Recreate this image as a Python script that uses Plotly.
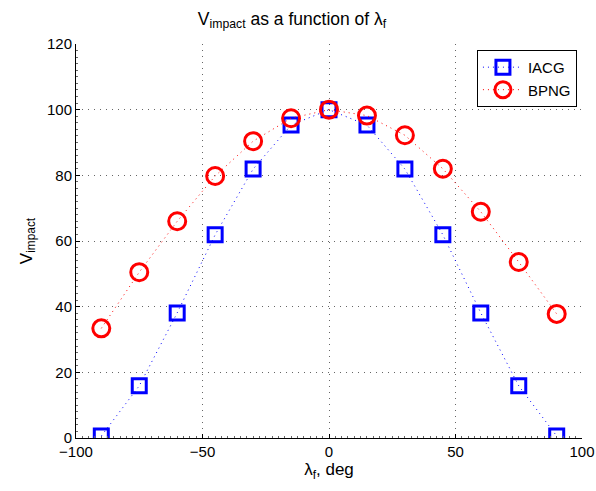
import plotly.graph_objects as go

# Final guidance angle (deg)
lam_f = [-90, -75, -60, -45, -30, -15, 0, 15, 30, 45, 60, 75, 90]
# Impact velocity for each guidance law
v_iacg = [0.6, 15.9, 38.1, 61.9, 81.9, 95.3, 100.0, 95.3, 81.9, 61.9, 38.1, 15.9, 0.6]
v_bpng = [33.4, 50.5, 66.0, 79.8, 90.4, 97.4, 100.0, 98.2, 92.2, 82.0, 68.9, 53.6, 37.8]

x_ticks = [-100, -50, 0, 50, 100]
y_ticks = [0, 20, 40, 60, 80, 100, 120]

FONT = "Liberation Sans, Arial, sans-serif"

fig = go.Figure()
fig.add_trace(go.Scatter(
    x=lam_f, y=v_iacg, name="IACG", mode="lines+markers",
    line=dict(color="#0000ff", width=1, dash="1px,4px"),
    marker=dict(symbol="square-open", size=14, color="#0000ff",
                line=dict(width=3, color="#0000ff")),
))
fig.add_trace(go.Scatter(
    x=lam_f, y=v_bpng, name="BPNG", mode="lines+markers",
    line=dict(color="#ff0000", width=1, dash="1px,4px"),
    marker=dict(symbol="circle-open", size=17, color="#ff0000",
                line=dict(width=3, color="#ff0000")),
))

axis_common = dict(
    showgrid=True, gridcolor="#666666", griddash="1px,5px", gridwidth=1,
    zeroline=False, showline=True, linecolor="black", linewidth=1,
    ticks="inside", ticklen=4, tickcolor="black", mirror=False,
    automargin=False,
    tickfont=dict(family=FONT, size=15, color="black"),
)

fig.update_xaxes(
    range=[-100, 100], tickvals=x_ticks, ticktext=["\u2212100", "\u221250", "0", "50", "100"],
    title=dict(text="\u03bb<sub>f</sub>, deg", font=dict(family=FONT, size=17, color="black"),
               standoff=2),
    minor=dict(dtick=2.5, ticks="inside", ticklen=2, tickcolor="#666666", showgrid=False),
    **axis_common,
)
fig.update_yaxes(
    range=[0, 120], tickvals=y_ticks,
    title=dict(text="V<sub>impact</sub>", font=dict(family=FONT, size=17, color="black"),
               standoff=10),
    minor=dict(dtick=2, ticks="inside", ticklen=2, tickcolor="#666666", showgrid=False),
    **axis_common,
)

fig.update_layout(
    width=596, height=491,
    margin=dict(l=76, r=14, t=44, b=53),
    paper_bgcolor="white", plot_bgcolor="white",
    title=dict(text="V<sub>impact</sub> as a function of \u03bb<sub>f</sub>",
               x=0.49, xanchor="center", y=0.962, yanchor="middle",
               font=dict(family=FONT, size=17.5, color="black")),
    legend=dict(x=0.99, y=0.985, xanchor="right", yanchor="top",
                bgcolor="white", bordercolor="black", borderwidth=1,
                font=dict(family=FONT, size=15, color="black"),
                itemwidth=40, tracegroupgap=2),
    showlegend=True,
)

fig.write_html("out.html")
